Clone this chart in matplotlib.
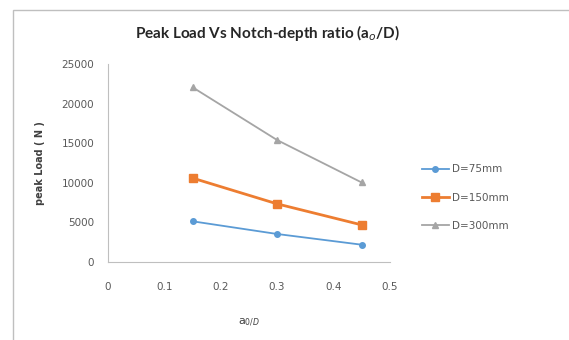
import matplotlib
matplotlib.use("Agg")
import matplotlib.pyplot as plt
from matplotlib.patches import Rectangle

# ── Data ────────────────────────────────────────────────────────────────
ratio = [0.15, 0.30, 0.45]
load_75 = [5150, 3550, 2200]
load_150 = [10600, 7350, 4700]
load_300 = [22050, 15400, 10050]

x_ticks = [0, 0.1, 0.2, 0.3, 0.4, 0.5]
y_ticks = [0, 5000, 10000, 15000, 20000, 25000]

plt.rcParams["font.family"] = ["DejaVu Sans"]

fig = plt.figure(figsize=(5.69, 3.40), dpi=100)
ax = fig.add_axes([0.19, 0.229, 0.495, 0.583])

# chart-area border like the spreadsheet export
fig.patches.append(Rectangle((13 / 569, -0.05), 1.2, 1 - 10 / 340 + 0.05,
                             transform=fig.transFigure, fill=False,
                             edgecolor="#bfbfbf", linewidth=1.0))

ax.plot(ratio, load_75, color="#5b9bd5", lw=1.3, marker="o", ms=4,
        label="D=75mm")
ax.plot(ratio, load_150, color="#ed7d31", lw=2.0, marker="s", ms=6,
        label="D=150mm")
ax.plot(ratio, load_300, color="#a5a5a5", lw=1.3, marker="^", ms=5,
        label="D=300mm")

ax.set_xlim(0, 0.5)
ax.set_ylim(0, 25000)
ax.set_xticks(x_ticks)
ax.set_xticklabels([f"{t:g}" for t in x_ticks])
ax.set_yticks(y_ticks)
ax.tick_params(length=0, labelsize=7.5, labelcolor="#595959", pad=10)
ax.tick_params(axis="x", pad=14)

for side in ["top", "right"]:
    ax.spines[side].set_visible(False)
for side in ["left", "bottom"]:
    ax.spines[side].set_color("#bfbfbf")

ax.set_title("Peak Load Vs Notch-depth ratio (a$_o$/D)", fontsize=11,
             fontweight="bold", color="#262626", pad=19, family="Lato",
             x=0.567)
ax.set_xlabel("a$_{0/D}$", fontsize=8, color="#404040", labelpad=18)
ax.set_ylabel("peak Load ( N )", fontsize=7, fontweight="bold",
              color="#404040", labelpad=12)

leg = ax.legend(loc="center left", bbox_to_anchor=(1.08, 0.325),
                frameon=False, fontsize=7.5, handlelength=2.6,
                labelspacing=1.75, handletextpad=0.3)
for txt in leg.get_texts():
    txt.set_color("#595959")

fig.savefig("out.png", dpi=100, facecolor="white")
